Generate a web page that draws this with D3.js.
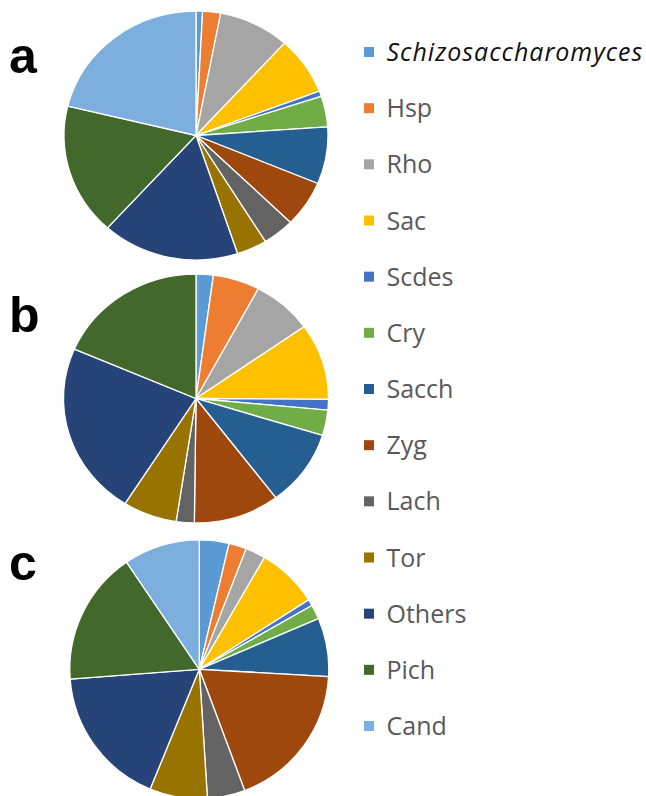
<!DOCTYPE html>
<html>
<head>
<meta charset="utf-8">
<script src="https://cdn.jsdelivr.net/npm/d3@7"></script>
<style>
  html, body { margin: 0; padding: 0; background: #fff; overflow: hidden; }
  svg { display: block; }
</style>
</head>
<body>
<svg id="chart" width="646" height="796"></svg>
<script>
const categories = ["Schizosaccharomyces", "Hsp", "Rho", "Sac", "Scdes", "Cry", "Sacch", "Zyg", "Lach", "Tor", "Others", "Pich", "Cand"];
const colors = ["#5B9BD5", "#ED7D31", "#A5A5A5", "#FFC000", "#4472C4", "#70AD47", "#255E91", "#9E480E", "#636363", "#997300", "#264478", "#43682B", "#7CAFDD"];
const valuesA = [0.8, 2.2, 8.7, 7.5, 0.7, 4.0, 7.4, 6.0, 3.9, 3.7, 16.8, 17.1, 21.2];
const valuesB = [2.1, 5.7, 7.4, 9.9, 1.4, 3.3, 9.9, 10.5, 2.2, 6.6, 22.5, 18.5, 0];
const valuesC = [3.7, 2.2, 2.5, 7.6, 0.8, 1.8, 7.3, 18.4, 4.7, 7.2, 17.6, 16.7, 9.5];
const panelLabels = ["a", "b", "c"];

const svg = d3.select("#chart");
const color = d3.scaleOrdinal().domain(categories).range(colors);

const panels = [
  {label: panelLabels[0], values: valuesA, cx: 196, cy: 135.5, rx: 132, ry: 124.5, lx: 9, ly: 73},
  {label: panelLabels[1], values: valuesB, cx: 196, cy: 398.5, rx: 132.5, ry: 124.5, lx: 9, ly: 332},
  {label: panelLabels[2], values: valuesC, cx: 199.3, cy: 669.3, rx: 129.5, ry: 129.5, lx: 9, ly: 580}
];

const pie = d3.pie().sort(null).value(d => d.v);

panels.forEach(p => {
  const data = categories.map((c, i) => ({cat: c, v: p.values[i]}));
  const arc = d3.arc().innerRadius(0).outerRadius(p.rx);
  const g = svg.append("g")
    .attr("transform", `translate(${p.cx},${p.cy}) scale(1,${p.ry / p.rx})`);
  g.selectAll("path")
    .data(pie(data).filter(d => d.data.v > 0))
    .join("path")
    .attr("d", arc)
    .attr("fill", d => color(d.data.cat))
    .attr("stroke", "#fff")
    .attr("stroke-width", 1.3)
    .attr("vector-effect", "non-scaling-stroke");
  svg.append("text")
    .attr("x", p.lx).attr("y", p.ly)
    .attr("font-family", "Liberation Sans, Arial, sans-serif")
    .attr("font-weight", "bold")
    .attr("font-size", 50)
    .attr("fill", "#000")
    .text(p.label);
});

const legendY = d3.scalePoint().domain(categories).range([52, 726]);
const legend = svg.append("g");
const items = legend.selectAll("g").data(categories).join("g")
  .attr("transform", d => `translate(364,${legendY(d)})`);
items.append("rect")
  .attr("x", 0).attr("y", -5).attr("width", 10).attr("height", 10)
  .attr("fill", d => color(d));
items.append("text")
  .attr("x", 22.5).attr("y", 0).attr("dy", "0.36em")
  .attr("font-family", "Open Sans, sans-serif")
  .attr("font-size", 25)
  .attr("letter-spacing", (d, i) => i === 0 ? 1 : 0)
  .attr("font-style", (d, i) => i === 0 ? "italic" : "normal")
  .attr("fill", (d, i) => i === 0 ? "#111" : "#595959")
  .text(d => d);
</script>
</body>
</html>
